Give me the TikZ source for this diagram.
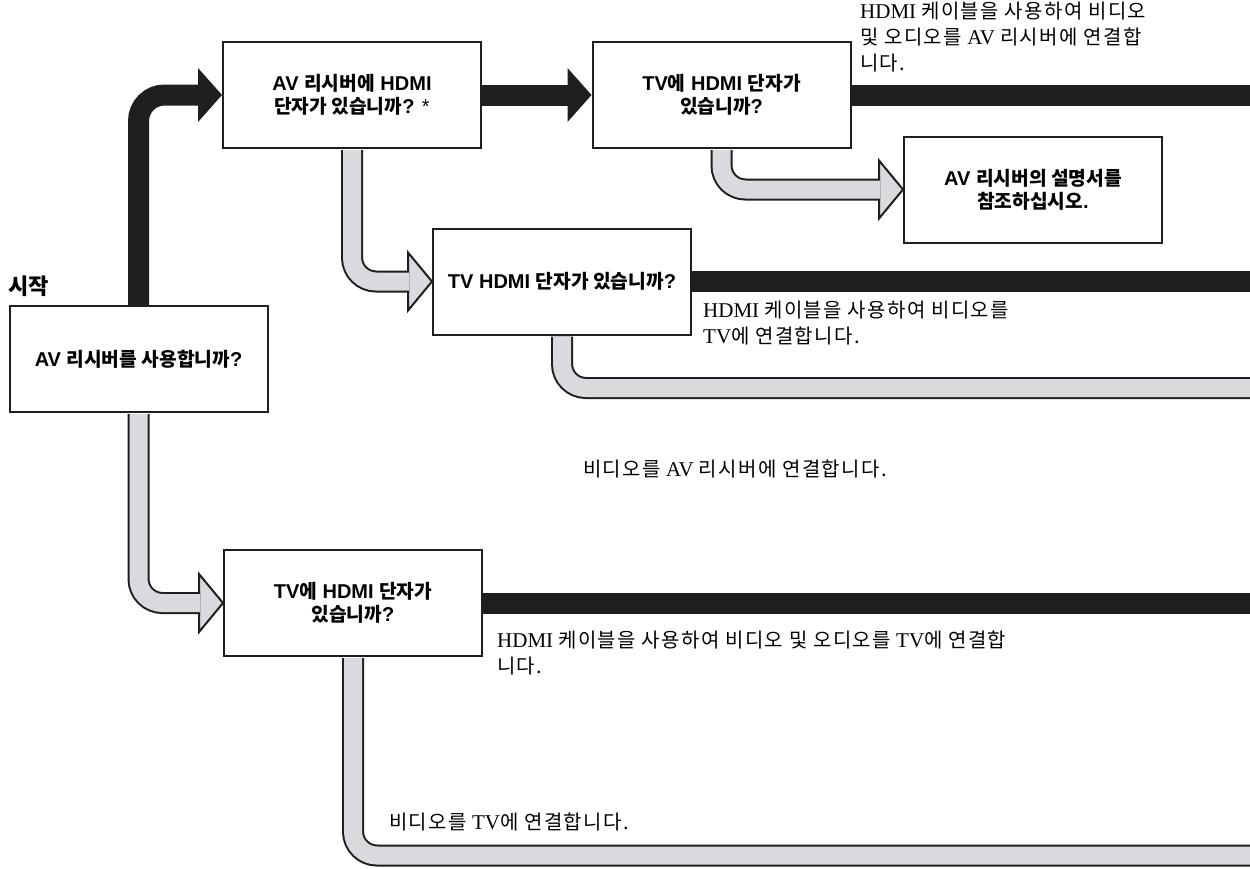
\documentclass[tikz,border=0pt]{standalone}
\usepackage{fontspec}
\usepackage{xcolor}
\usepackage{tikz}
\usetikzlibrary{positioning}

\setmainfont{Liberation Serif}
\newfontfamily\hv{Liberation Sans}
\newfontfamily\krlight[Scale=0.95, LetterSpace=7]{Noto Sans CJK KR}
\newfontfamily\krheavy[Scale=0.96]{Noto Sans CJK KR}
\newcommand\kt[1]{{\krlight #1}}
\newcommand\kb[1]{{\krheavy\bfseries #1}}

\definecolor{ink}{RGB}{30,30,30}
\definecolor{lgray}{RGB}{217,218,221}

\tikzset{
    box/.style={draw=ink, line width=2pt, fill=white, minimum width=258pt, minimum height=106pt,
        align=center, inner sep=2pt, font=\hv\bfseries\fontsize{20}{23}\selectfont},
    note/.style={anchor=west, align=left, inner sep=0pt, font=\fontsize{21}{26}\selectfont},
    blk/.style={ink, line width=21pt, rounded corners=26pt},
    gry/.style={draw=ink, line width=2pt, double=lgray, double distance=18pt, rounded corners=24pt},
    bhead/.style={fill=ink},
    ghead/.style={fill=lgray, draw=ink, line width=2pt, line join=miter},
}

\begin{document}
\begin{tikzpicture}[x=1pt, y=-1pt]
    \useasboundingbox (0,0) rectangle (1250,868);
    \coordinate (edge) at (1252,0);
    \coordinate (g5) at (1252,388);
    \coordinate (g6) at (1252,855.5);

    \node[box] (useavr) at (138.5,359) {AV \kb{리시버를 사용합니까}?};
    \node[box] (avhdmi) at (352,95) {AV \kb{리시버에} HDMI\\\kb{단자가 있습니까}? {\mdseries *}};
    \node[box] (tvhdmi) at (721.5,95) {TV\kb{에} HDMI \kb{단자가}\\\kb{있습니까}?};
    \node[box] (manual) at (1033,189.5) {AV \kb{리시버의 설명서를}\\\kb{참조하십시오}.};
    \node[box] (tvonly) at (562,281.5) {TV HDMI \kb{단자가 있습니까}?};
    \node[box] (tvdirect) at (353,603) {TV\kb{에} HDMI \kb{단자가}\\\kb{있습니까}?};
    \node[anchor=west, inner sep=0pt, font=\fontsize{23}{26}\selectfont] (start) at (8,286) {\kb{시작}};

    % yes
    \fill[bhead] (avhdmi.west) -- ++(-24,-27) -- ++(0,54) -- cycle;
    \draw[blk] (useavr.north) |- ([xshift=-23pt]avhdmi.west);
    \fill[bhead] (tvhdmi.west) -- ++(-24,-27) -- ++(0,54) -- cycle;
    \draw[blk] (avhdmi.east) -- ([xshift=-23pt]tvhdmi.west);
    \draw[blk] (tvhdmi.east) -- (tvhdmi.east -| edge);
    \draw[blk] (tvonly.east) -- (tvonly.east -| edge);
    \draw[blk] (tvdirect.east) -- (tvdirect.east -| edge);

    % no
    \filldraw[ghead] (manual.west) -- ++(-24,-29) -- ++(0,58) -- cycle;
    \draw[gry] ([yshift=-1pt]tvhdmi.south) |- ([xshift=-23pt]manual.west);
    \filldraw[ghead] (tvonly.west) -- ++(-24,-29) -- ++(0,58) -- cycle;
    \draw[gry] ([yshift=-1pt]avhdmi.south) |- ([xshift=-23pt]tvonly.west);
    \filldraw[ghead] (tvdirect.west) -- ++(-24,-29) -- ++(0,58) -- cycle;
    \draw[gry] ([yshift=-1pt]useavr.south) |- ([xshift=-23pt]tvdirect.west);
    \draw[gry] ([yshift=-1pt]tvonly.south) |- (g5);
    \draw[gry] ([yshift=-1pt]tvdirect.south) |- (g6);

    \node[note] (avtext) at (860,37) {HDMI \kt{케이블을 사용하여 비디오}\\\kt{및 오디오를} AV \kt{리시버에 연결합}\\\kt{니다.}};
    \node[note] (tvtext) at (703,323.5) {HDMI \kt{케이블을 사용하여 비디오를}\\TV\kt{에 연결합니다.}};
    \node[note] (avvideo) at (583,469) {\kt{비디오를} AV \kt{리시버에 연결합니다.}};
    \node[note] (directtext) at (497,653) {HDMI \kt{케이블을 사용하여 비디오 및 오디오를} TV\kt{에 연결합}\\\kt{니다.}};
    \node[note] (tvvideo) at (389,822) {\kt{비디오를} TV\kt{에 연결합니다.}};
\end{tikzpicture}
\end{document}
